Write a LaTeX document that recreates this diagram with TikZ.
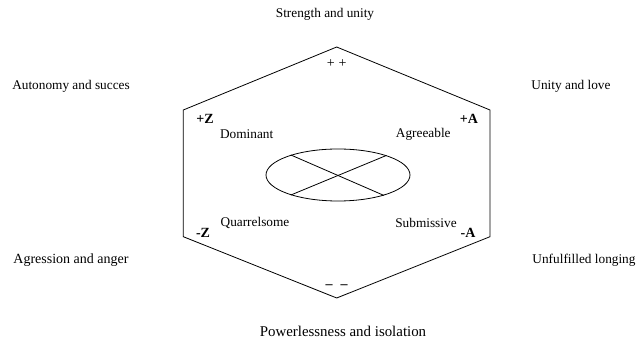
\documentclass[tikz,border=0pt]{standalone}
\usepackage{fontspec}
\setmainfont{Liberation Serif}
\usetikzlibrary{shapes.geometric}
\begin{document}
\begin{tikzpicture}[x=1pt,y=-1pt,
  lbl/.style={inner sep=0pt,font=\fontsize{13.3}{15}\selectfont},
  pole/.style={inner sep=0pt,font=\fontsize{14}{16}\selectfont\bfseries},
  hexline/.style={draw,line width=0.8pt},
  axis/.style={draw,line width=0.8pt}]
\useasboundingbox (0,0) rectangle (638,347);
% hexagon
\coordinate (T) at (336.7,47);
\coordinate (UL) at (183.3,110);
\coordinate (LL) at (183.3,236.7);
\coordinate (B) at (336.7,298);
\coordinate (LR) at (490,236.7);
\coordinate (UR) at (490,110);
\draw[hexline] (T) -- (UL) -- (LL) -- (B) -- (LR) -- (UR) -- cycle;
% ellipse
\node[draw,line width=0.8pt,ellipse,minimum width=144pt,minimum height=52pt,inner sep=0pt] (ell) at (338,175) {};
\draw[axis] (ell.157.5) -- (ell.336.5);
\draw[axis] (ell.203.3) -- (ell.22);
% inner labels
\node[lbl] (dom) at (246.7,134.3) {Dominant};
\node[lbl] (agr) at (423.3,134.3) {Agreeable};
\node[lbl] (qua) at (255,222.7) {Quarrelsome};
\node[lbl] (sub) at (426,222.7) {Submissive};
% poles
\node[pole] (pz) at (205,119.3) {+Z};
\node[pole] (pa) at (469,119.3) {+A};
\node[pole] (mz) at (203,232.5) {-Z};
\node[pole] (ma) at (468,232.5) {-A};
\node[lbl,font=\fontsize{14}{16}\selectfont] (pp) at (336.7,64) {+\hspace{4pt}+};
\node[lbl,font=\fontsize{14}{16}\selectfont\bfseries] (mm) at (336.7,286.7) {\textendash\hspace{8pt}\textendash};
% outer labels
\node[lbl] (o1) at (325,14) {Strength and unity};
\node[lbl] (o2) at (71,86) {Autonomy and succes};
\node[lbl] (o3) at (571,86) {Unity and love};
\node[lbl,font=\fontsize{14}{16}\selectfont] (o4) at (71,260.5) {Agression and anger};
\node[lbl] (o5) at (584,260.5) {Unfulfilled longing};
\node[lbl,font=\fontsize{14.9}{17}\selectfont] (o6) at (343,331) {Powerlessness and isolation};
\end{tikzpicture}
\end{document}
